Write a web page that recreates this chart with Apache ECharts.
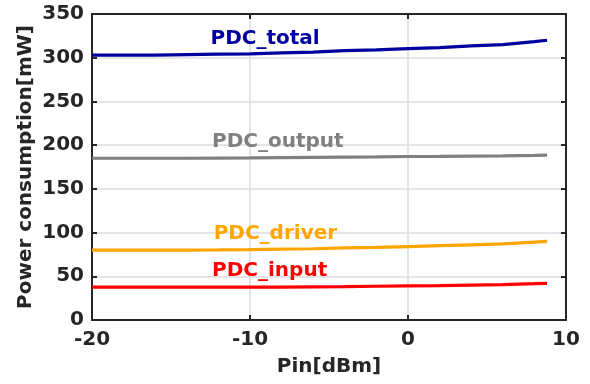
<!DOCTYPE html>
<html>
<head>
<meta charset="utf-8">
<script src="https://cdn.jsdelivr.net/npm/echarts@6/dist/echarts.min.js"></script>
<style>html,body{margin:0;padding:0;background:#fff;}#c{width:590px;height:384px;}</style>
</head>
<body>
<div id="c"></div>
<script>
const pinDbm      = [-20, -18, -16, -14, -12, -10, -8, -6, -4, -2, 0, 2, 4, 6, 8, 8.8];
const pdcTotal    = [303, 303, 303, 303.5, 304, 304.5, 305.5, 306.5, 308, 309, 310.5, 311.5, 313.5, 315, 318.5, 320];
const pdcOutput   = [185, 185, 185, 185, 185.2, 185.4, 185.7, 186, 186.3, 186.6, 187, 187.2, 187.5, 187.8, 188.3, 188.6];
const pdcDriver   = [80, 80, 80, 80, 80.2, 80.5, 81, 81.5, 82.5, 83, 84, 85, 86, 87, 89, 90];
const pdcInput    = [37.5, 37.5, 37.5, 37.5, 37.5, 37.6, 37.7, 38, 38.2, 38.6, 39, 39.4, 40, 40.5, 41.5, 42];
const seriesNames = ['PDC_total', 'PDC_output', 'PDC_driver', 'PDC_input'];
const labelX      = [-12.5, -12.4, -12.3, -12.4];
const labelY      = [321.5, 203.5, 98.7, 56.8];
const xTicks      = [-20, -10, 0, 10];
const yTicks      = [0, 50, 100, 150, 200, 250, 300, 350];

const colors = ['#0000a0', '#808080', '#ffa500', '#ff0000'];
const values = [pdcTotal, pdcOutput, pdcDriver, pdcInput];
const FONT = 'DejaVu Sans';
const AX = '#262626';

const chart = echarts.init(document.getElementById('c'), null, {renderer: 'canvas'});

const series = seriesNames.map((n, i) => ({
  name: n,
  type: 'line',
  xAxisIndex: 0,
  yAxisIndex: 0,
  showSymbol: false,
  smooth: false,
  data: pinDbm.map((x, k) => [x, values[i][k]]),
  lineStyle: {color: colors[i], width: 3.2},
  itemStyle: {color: colors[i]},
  z: 3,
  markPoint: {
    symbol: 'circle',
    symbolSize: 0,
    silent: true,
    data: [{
      coord: [labelX[i], labelY[i]],
      label: {
        show: true,
        position: 'inside',
        align: 'left',
        verticalAlign: 'middle',
        formatter: n,
        color: colors[i],
        fontFamily: FONT,
        fontWeight: 'bold',
        fontSize: 20
      }
    }]
  }
}));

const baseX = {
  type: 'value', min: -20, max: 10, interval: 10,
  axisLine: {show: true, onZero: false, lineStyle: {color: AX, width: 2}},
  axisTick: {show: true, inside: true, length: 5, lineStyle: {color: AX, width: 2}},
};
const baseY = {
  type: 'value', min: 0, max: 350, interval: 50,
  axisLine: {show: true, onZero: false, lineStyle: {color: AX, width: 2}},
  axisTick: {show: true, inside: true, length: 5, lineStyle: {color: AX, width: 2}},
};

chart.setOption({
  animation: false,
  backgroundColor: '#ffffff',
  grid: {left: 92, right: 24, top: 14, bottom: 64, containLabel: false},
  xAxis: [
    Object.assign({}, baseX, {
      position: 'bottom',
      name: 'Pin[dBm]',
      nameLocation: 'middle',
      nameGap: 37,
      nameMoveOverlap: false,
      nameTextStyle: {color: AX, fontFamily: FONT, fontWeight: 'bold', fontSize: 20, verticalAlign: 'top'},
      axisLabel: {show: true, margin: 10, color: AX, fontFamily: FONT, fontWeight: 'bold', fontSize: 20,
        formatter: v => xTicks.includes(v) ? String(v) : ''},
      splitLine: {show: true, lineStyle: {color: '#dcdcdc', width: 1.5}}
    }),
    Object.assign({}, baseX, {
      position: 'top',
      axisLabel: {show: false},
      splitLine: {show: false}
    })
  ],
  yAxis: [
    Object.assign({}, baseY, {
      position: 'left',
      name: 'Power consumption[mW]',
      nameLocation: 'middle',
      nameGap: 56,
      nameMoveOverlap: false,
      nameTextStyle: {color: AX, fontFamily: FONT, fontWeight: 'bold', fontSize: 20},
      axisLabel: {show: true, margin: 8, color: AX, fontFamily: FONT, fontWeight: 'bold', fontSize: 20,
        formatter: v => yTicks.includes(v) ? String(v) : ''},
      splitLine: {show: true, lineStyle: {color: '#dcdcdc', width: 1.5}}
    }),
    Object.assign({}, baseY, {
      position: 'right',
      axisLabel: {show: false},
      splitLine: {show: false}
    })
  ],
  series: series
});
</script>
</body>
</html>
